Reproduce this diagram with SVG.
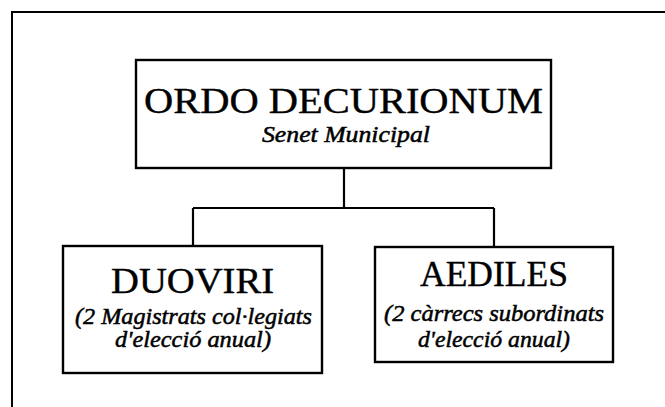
<svg xmlns="http://www.w3.org/2000/svg" width="665" height="407" viewBox="0 0 665 407">
<style>
.box{fill:#fff;stroke:#000;stroke-width:2.4}
.frame{fill:none;stroke:#000;stroke-width:2}
.conn{fill:none;stroke:#000;stroke-width:2.2}
.t{font-family:"Liberation Serif","Times New Roman",serif;fill:#000;stroke:#000;stroke-width:0.4;text-anchor:middle}
.i{font-family:"Liberation Serif","Times New Roman",serif;font-style:italic;fill:#000;stroke:#000;stroke-width:0.5;text-anchor:middle}
</style>
<rect width="665" height="407" fill="#fff"/>
<path class="frame" d="M12,407 V12 H665"/>
<g id="connectors">
<path class="conn" d="M344,168 V208 M193,208 H494 M193,208 V246 M494,208 V247"/>
</g>
<g id="ordo">
<rect class="box" x="136" y="60" width="415" height="108"/>
<text class="t" x="343.5" y="113" font-size="36" textLength="399" lengthAdjust="spacingAndGlyphs">ORDO DECURIONUM</text>
<text class="i" x="346" y="142" font-size="23" textLength="168" lengthAdjust="spacingAndGlyphs">Senet Municipal</text>
</g>
<g id="duoviri">
<rect class="box" x="63" y="246" width="259" height="127"/>
<text class="t" x="192.5" y="293" font-size="36" textLength="163" lengthAdjust="spacingAndGlyphs">DUOVIRI</text>
<text class="i" x="193.5" y="324" font-size="23" textLength="237" lengthAdjust="spacingAndGlyphs">(2 Magistrats col·legiats</text>
<text class="i" x="193" y="347" font-size="23" textLength="156" lengthAdjust="spacingAndGlyphs">d'elecció anual)</text>
</g>
<g id="aediles">
<rect class="box" x="375" y="247" width="238" height="115"/>
<text class="t" x="494" y="286" font-size="36" textLength="148" lengthAdjust="spacingAndGlyphs">AEDILES</text>
<text class="i" x="494" y="321" font-size="23" textLength="220" lengthAdjust="spacingAndGlyphs">(2 càrrecs subordinats</text>
<text class="i" x="494" y="347" font-size="23" textLength="152" lengthAdjust="spacingAndGlyphs">d'elecció anual)</text>
</g>
</svg>
